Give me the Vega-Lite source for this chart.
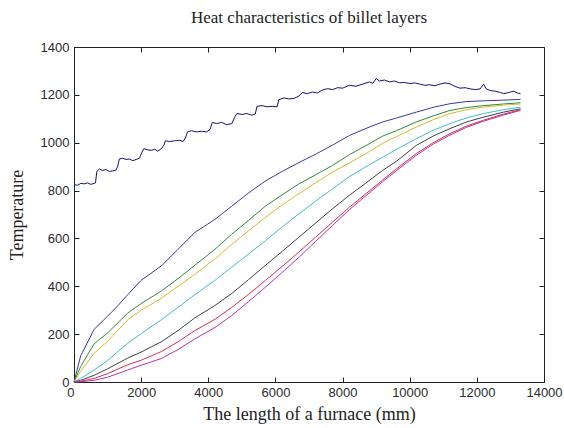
{
  "$schema": "https://vega.github.io/schema/vega-lite/v6.json",
  "width": 470,
  "height": 335,
  "autosize": {"type": "none"},
  "padding": {"left": 74, "top": 47, "right": 20, "bottom": 46},
  "background": "white",
  "title": {"text": "Heat characteristics of billet layers", "font": "Liberation Serif", "fontSize": 17, "fontWeight": "normal", "color": "#222", "offset": 14, "anchor": "middle"},
  "config": {
    "view": {"stroke": "#222", "strokeWidth": 1},
    "axis": {"grid": false, "domainColor": "#222", "tickColor": "#222", "labelFont": "Liberation Sans", "labelFontSize": 13, "labelColor": "#2a2a2a", "titleFont": "Liberation Serif", "titleFontSize": 18, "titleFontWeight": "normal", "titleColor": "#222"}
  },
  "datasets": {
    "d": [
      {"s":"Furnace","x":0,"y":825},{"s":"Furnace","x":100,"y":822},{"s":"Furnace","x":200,"y":830},{"s":"Furnace","x":300,"y":828},{"s":"Furnace","x":400,"y":832},{"s":"Furnace","x":500,"y":826},{"s":"Furnace","x":600,"y":830},{"s":"Furnace","x":640,"y":832},{"s":"Furnace","x":680,"y":880},{"s":"Furnace","x":760,"y":890},{"s":"Furnace","x":850,"y":884},{"s":"Furnace","x":950,"y":888},{"s":"Furnace","x":1050,"y":880},{"s":"Furnace","x":1150,"y":882},{"s":"Furnace","x":1250,"y":885},{"s":"Furnace","x":1300,"y":900},{"s":"Furnace","x":1350,"y":932},{"s":"Furnace","x":1450,"y":935},{"s":"Furnace","x":1550,"y":930},{"s":"Furnace","x":1650,"y":932},{"s":"Furnace","x":1750,"y":925},{"s":"Furnace","x":1850,"y":930},{"s":"Furnace","x":1950,"y":935},{"s":"Furnace","x":2020,"y":960},{"s":"Furnace","x":2080,"y":975},{"s":"Furnace","x":2200,"y":970},{"s":"Furnace","x":2300,"y":968},{"s":"Furnace","x":2400,"y":972},{"s":"Furnace","x":2500,"y":965},{"s":"Furnace","x":2600,"y":975},{"s":"Furnace","x":2680,"y":990},{"s":"Furnace","x":2720,"y":1008},{"s":"Furnace","x":2850,"y":1005},{"s":"Furnace","x":3000,"y":1008},{"s":"Furnace","x":3150,"y":1010},{"s":"Furnace","x":3250,"y":1005},{"s":"Furnace","x":3320,"y":1020},{"s":"Furnace","x":3380,"y":1045},{"s":"Furnace","x":3500,"y":1050},{"s":"Furnace","x":3650,"y":1045},{"s":"Furnace","x":3800,"y":1048},{"s":"Furnace","x":3950,"y":1045},{"s":"Furnace","x":4050,"y":1055},{"s":"Furnace","x":4120,"y":1085},{"s":"Furnace","x":4250,"y":1080},{"s":"Furnace","x":4400,"y":1085},{"s":"Furnace","x":4550,"y":1075},{"s":"Furnace","x":4700,"y":1080},{"s":"Furnace","x":4800,"y":1110},{"s":"Furnace","x":4850,"y":1122},{"s":"Furnace","x":5000,"y":1118},{"s":"Furnace","x":5150,"y":1122},{"s":"Furnace","x":5300,"y":1115},{"s":"Furnace","x":5400,"y":1120},{"s":"Furnace","x":5450,"y":1152},{"s":"Furnace","x":5600,"y":1155},{"s":"Furnace","x":5750,"y":1150},{"s":"Furnace","x":5900,"y":1152},{"s":"Furnace","x":6050,"y":1150},{"s":"Furnace","x":6100,"y":1180},{"s":"Furnace","x":6250,"y":1187},{"s":"Furnace","x":6400,"y":1183},{"s":"Furnace","x":6550,"y":1185},{"s":"Furnace","x":6700,"y":1195},{"s":"Furnace","x":6800,"y":1210},{"s":"Furnace","x":6950,"y":1205},{"s":"Furnace","x":7100,"y":1212},{"s":"Furnace","x":7250,"y":1208},{"s":"Furnace","x":7400,"y":1220},{"s":"Furnace","x":7550,"y":1226},{"s":"Furnace","x":7700,"y":1222},{"s":"Furnace","x":7850,"y":1230},{"s":"Furnace","x":8000,"y":1228},{"s":"Furnace","x":8200,"y":1240},{"s":"Furnace","x":8400,"y":1236},{"s":"Furnace","x":8600,"y":1245},{"s":"Furnace","x":8800,"y":1254},{"s":"Furnace","x":8900,"y":1248},{"s":"Furnace","x":9000,"y":1268},{"s":"Furnace","x":9100,"y":1258},{"s":"Furnace","x":9250,"y":1262},{"s":"Furnace","x":9400,"y":1254},{"s":"Furnace","x":9550,"y":1258},{"s":"Furnace","x":9700,"y":1250},{"s":"Furnace","x":9850,"y":1252},{"s":"Furnace","x":10000,"y":1247},{"s":"Furnace","x":10150,"y":1250},{"s":"Furnace","x":10300,"y":1245},{"s":"Furnace","x":10450,"y":1240},{"s":"Furnace","x":10600,"y":1242},{"s":"Furnace","x":10750,"y":1238},{"s":"Furnace","x":10900,"y":1245},{"s":"Furnace","x":11050,"y":1250},{"s":"Furnace","x":11200,"y":1246},{"s":"Furnace","x":11350,"y":1235},{"s":"Furnace","x":11500,"y":1228},{"s":"Furnace","x":11650,"y":1230},{"s":"Furnace","x":11800,"y":1225},{"s":"Furnace","x":11950,"y":1222},{"s":"Furnace","x":12100,"y":1225},{"s":"Furnace","x":12200,"y":1245},{"s":"Furnace","x":12280,"y":1225},{"s":"Furnace","x":12400,"y":1218},{"s":"Furnace","x":12550,"y":1215},{"s":"Furnace","x":12700,"y":1210},{"s":"Furnace","x":12800,"y":1205},{"s":"Furnace","x":12900,"y":1208},{"s":"Furnace","x":13000,"y":1212},{"s":"Furnace","x":13100,"y":1215},{"s":"Furnace","x":13200,"y":1208},{"s":"Furnace","x":13300,"y":1205},

      {"s":"Surface","x":0,"y":0},{"s":"Surface","x":200,"y":110},{"s":"Surface","x":600,"y":220},{"s":"Surface","x":1000,"y":275},{"s":"Surface","x":1300,"y":318},{"s":"Surface","x":1600,"y":365},{"s":"Surface","x":2000,"y":425},{"s":"Surface","x":2600,"y":485},{"s":"Surface","x":3100,"y":555},{"s":"Surface","x":3600,"y":625},{"s":"Surface","x":4200,"y":680},{"s":"Surface","x":4700,"y":735},{"s":"Surface","x":5200,"y":790},{"s":"Surface","x":5700,"y":840},{"s":"Surface","x":6200,"y":880},{"s":"Surface","x":6700,"y":917},{"s":"Surface","x":7200,"y":952},{"s":"Surface","x":7700,"y":990},{"s":"Surface","x":8200,"y":1030},{"s":"Surface","x":8700,"y":1060},{"s":"Surface","x":9200,"y":1087},{"s":"Surface","x":9600,"y":1103},{"s":"Surface","x":10200,"y":1128},{"s":"Surface","x":10700,"y":1148},{"s":"Surface","x":11200,"y":1163},{"s":"Surface","x":11700,"y":1172},{"s":"Surface","x":12200,"y":1175},{"s":"Surface","x":12800,"y":1178},{"s":"Surface","x":13300,"y":1181},

      {"s":"L2","x":0,"y":0},{"s":"L2","x":200,"y":65},{"s":"L2","x":600,"y":160},{"s":"L2","x":1000,"y":205},{"s":"L2","x":1600,"y":288},{"s":"L2","x":2000,"y":328},{"s":"L2","x":2600,"y":380},{"s":"L2","x":3100,"y":432},{"s":"L2","x":3600,"y":488},{"s":"L2","x":4200,"y":555},{"s":"L2","x":4700,"y":618},{"s":"L2","x":5200,"y":675},{"s":"L2","x":5700,"y":735},{"s":"L2","x":6200,"y":782},{"s":"L2","x":6700,"y":828},{"s":"L2","x":7200,"y":866},{"s":"L2","x":7700,"y":905},{"s":"L2","x":8200,"y":950},{"s":"L2","x":8700,"y":988},{"s":"L2","x":9200,"y":1028},{"s":"L2","x":9600,"y":1050},{"s":"L2","x":10200,"y":1087},{"s":"L2","x":10700,"y":1112},{"s":"L2","x":11200,"y":1135},{"s":"L2","x":11700,"y":1147},{"s":"L2","x":12200,"y":1155},{"s":"L2","x":12800,"y":1162},{"s":"L2","x":13300,"y":1167},

      {"s":"L3","x":0,"y":0},{"s":"L3","x":200,"y":45},{"s":"L3","x":600,"y":120},{"s":"L3","x":1000,"y":170},{"s":"L3","x":1600,"y":260},{"s":"L3","x":2000,"y":300},{"s":"L3","x":2600,"y":350},{"s":"L3","x":3100,"y":400},{"s":"L3","x":3600,"y":450},{"s":"L3","x":4200,"y":515},{"s":"L3","x":4700,"y":575},{"s":"L3","x":5200,"y":632},{"s":"L3","x":5700,"y":688},{"s":"L3","x":6200,"y":740},{"s":"L3","x":6700,"y":787},{"s":"L3","x":7200,"y":833},{"s":"L3","x":7700,"y":877},{"s":"L3","x":8200,"y":915},{"s":"L3","x":8700,"y":955},{"s":"L3","x":9200,"y":998},{"s":"L3","x":9600,"y":1025},{"s":"L3","x":10200,"y":1066},{"s":"L3","x":10700,"y":1096},{"s":"L3","x":11200,"y":1122},{"s":"L3","x":11700,"y":1138},{"s":"L3","x":12200,"y":1149},{"s":"L3","x":12800,"y":1157},{"s":"L3","x":13300,"y":1162},

      {"s":"L4","x":0,"y":0},{"s":"L4","x":200,"y":15},{"s":"L4","x":600,"y":50},{"s":"L4","x":1000,"y":90},{"s":"L4","x":1600,"y":162},{"s":"L4","x":2000,"y":202},{"s":"L4","x":2600,"y":260},{"s":"L4","x":3100,"y":312},{"s":"L4","x":3600,"y":365},{"s":"L4","x":4200,"y":425},{"s":"L4","x":4700,"y":480},{"s":"L4","x":5200,"y":535},{"s":"L4","x":5700,"y":590},{"s":"L4","x":6200,"y":648},{"s":"L4","x":6700,"y":703},{"s":"L4","x":7200,"y":756},{"s":"L4","x":7700,"y":807},{"s":"L4","x":8200,"y":858},{"s":"L4","x":8700,"y":900},{"s":"L4","x":9200,"y":940},{"s":"L4","x":9600,"y":972},{"s":"L4","x":10200,"y":1017},{"s":"L4","x":10700,"y":1052},{"s":"L4","x":11200,"y":1080},{"s":"L4","x":11700,"y":1104},{"s":"L4","x":12200,"y":1122},{"s":"L4","x":12800,"y":1138},{"s":"L4","x":13300,"y":1149},

      {"s":"L5","x":0,"y":0},{"s":"L5","x":200,"y":7},{"s":"L5","x":600,"y":28},{"s":"L5","x":1000,"y":55},{"s":"L5","x":1600,"y":100},{"s":"L5","x":2000,"y":125},{"s":"L5","x":2600,"y":168},{"s":"L5","x":3100,"y":215},{"s":"L5","x":3600,"y":268},{"s":"L5","x":4200,"y":320},{"s":"L5","x":4700,"y":370},{"s":"L5","x":5200,"y":428},{"s":"L5","x":5700,"y":487},{"s":"L5","x":6200,"y":546},{"s":"L5","x":6700,"y":605},{"s":"L5","x":7200,"y":665},{"s":"L5","x":7700,"y":724},{"s":"L5","x":8200,"y":780},{"s":"L5","x":8700,"y":832},{"s":"L5","x":9200,"y":885},{"s":"L5","x":9600,"y":922},{"s":"L5","x":10200,"y":989},{"s":"L5","x":10700,"y":1028},{"s":"L5","x":11200,"y":1059},{"s":"L5","x":11700,"y":1087},{"s":"L5","x":12200,"y":1107},{"s":"L5","x":12800,"y":1128},{"s":"L5","x":13300,"y":1142},

      {"s":"L6","x":0,"y":0},{"s":"L6","x":200,"y":3},{"s":"L6","x":600,"y":15},{"s":"L6","x":1000,"y":35},{"s":"L6","x":1600,"y":72},{"s":"L6","x":2000,"y":91},{"s":"L6","x":2600,"y":127},{"s":"L6","x":3100,"y":168},{"s":"L6","x":3600,"y":215},{"s":"L6","x":4200,"y":262},{"s":"L6","x":4700,"y":312},{"s":"L6","x":5200,"y":366},{"s":"L6","x":5700,"y":424},{"s":"L6","x":6200,"y":483},{"s":"L6","x":6700,"y":543},{"s":"L6","x":7200,"y":606},{"s":"L6","x":7700,"y":668},{"s":"L6","x":8200,"y":730},{"s":"L6","x":8700,"y":787},{"s":"L6","x":9200,"y":845},{"s":"L6","x":9600,"y":890},{"s":"L6","x":10200,"y":955},{"s":"L6","x":10700,"y":1000},{"s":"L6","x":11200,"y":1038},{"s":"L6","x":11700,"y":1070},{"s":"L6","x":12200,"y":1094},{"s":"L6","x":12800,"y":1120},{"s":"L6","x":13300,"y":1138},

      {"s":"Center","x":0,"y":0},{"s":"Center","x":200,"y":1},{"s":"Center","x":600,"y":7},{"s":"Center","x":1000,"y":20},{"s":"Center","x":1600,"y":50},{"s":"Center","x":2000,"y":70},{"s":"Center","x":2600,"y":98},{"s":"Center","x":3100,"y":136},{"s":"Center","x":3600,"y":180},{"s":"Center","x":4200,"y":228},{"s":"Center","x":4700,"y":278},{"s":"Center","x":5200,"y":336},{"s":"Center","x":5700,"y":396},{"s":"Center","x":6200,"y":458},{"s":"Center","x":6700,"y":521},{"s":"Center","x":7200,"y":588},{"s":"Center","x":7700,"y":654},{"s":"Center","x":8200,"y":720},{"s":"Center","x":8700,"y":779},{"s":"Center","x":9200,"y":838},{"s":"Center","x":9600,"y":883},{"s":"Center","x":10200,"y":948},{"s":"Center","x":10700,"y":994},{"s":"Center","x":11200,"y":1032},{"s":"Center","x":11700,"y":1065},{"s":"Center","x":12200,"y":1090},{"s":"Center","x":12800,"y":1116},{"s":"Center","x":13300,"y":1135}
    ]
  },
  "data": {"name": "d"},
  "layer": [
    {
      "mark": {"type": "line", "strokeWidth": 1},
      "encoding": {
        "x": {"field": "x", "type": "quantitative", "scale": {"domain": [0, 14000], "nice": false}, "axis": {"orient": "bottom", "values": [0,2000,4000,6000,8000,10000,12000,14000], "format": "d", "tickSize": -5, "labelPadding": 9, "labelAlign": {"expr": "datum.value === 0 ? 'right' : 'center'"}, "title": "The length of a furnace (mm)", "titlePadding": 6}},
        "y": {"field": "y", "type": "quantitative", "scale": {"domain": [0, 1400], "nice": false}, "axis": {"orient": "left", "values": [0,200,400,600,800,1000,1200,1400], "format": "d", "tickSize": -5, "labelPadding": 10, "title": "Temperature", "titlePadding": 14}},
        "color": {"field": "s", "type": "nominal", "legend": null, "scale": {"domain": ["Furnace","Surface","L2","L3","L4","L5","L6","Center"], "range": ["#12127a","#3a3a9c","#2e8b3a","#d6bc2a","#3cbcd4","#404040","#d23050","#b432b4"]}}
      }
    },
    {
      "mark": {"type": "line", "opacity": 0},
      "encoding": {
        "x": {"field": "x", "type": "quantitative", "axis": {"orient": "top", "values": [0,2000,4000,6000,8000,10000,12000,14000], "tickSize": -5, "labels": false, "title": null}},
        "y": {"field": "y", "type": "quantitative", "axis": {"orient": "right", "values": [0,200,400,600,800,1000,1200,1400], "tickSize": -5, "labels": false, "title": null}},
        "detail": {"field": "s"}
      }
    }
  ],
  "resolve": {"axis": {"x": "independent", "y": "independent"}}
}
